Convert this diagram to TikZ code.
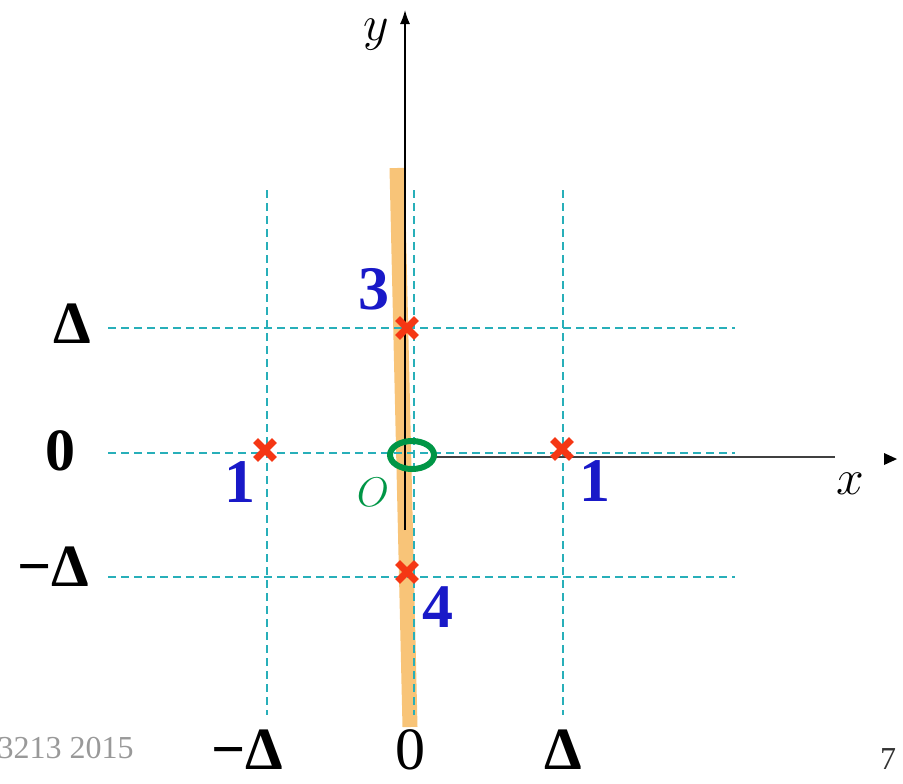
\documentclass[tikz,border=0pt]{standalone}
\usepackage{fontspec}
\setmainfont{Liberation Serif}
\usetikzlibrary{arrows.meta,shapes.misc,shapes.geometric}
\definecolor{gridcyan}{RGB}{40,175,185}
\definecolor{bandorange}{RGB}{248,196,120}
\definecolor{crossred}{RGB}{245,55,20}
\definecolor{numblue}{RGB}{25,25,200}
\definecolor{origgreen}{RGB}{0,150,70}
\tikzset{
  gridline/.style={gridcyan,line width=0.6pt,dash pattern=on 4pt off 2.5pt},
  crossmark/.style={cross out,draw=crossred,line width=3.4pt,minimum size=6pt,inner sep=0pt},
  numlab/.style={text=numblue,inner sep=0pt,font=\fontsize{31}{34}\selectfont\bfseries},
  ticklab/.style={inner sep=0pt,font=\fontsize{30}{34}\selectfont\bfseries},
  axislab/.style={inner sep=0pt,font=\fontsize{24}{28}\selectfont},
}

\begin{document}
\begin{tikzpicture}[x=0.5pt,y=-0.5pt]
  \useasboundingbox (0,0) rectangle (903,783);
  % the band along the y axis
  \draw[bandorange,line width=7.5pt] (397,168) -- (410,727);
  % dashed grid
  \foreach \y in {328,453,577} \draw[gridline] (108,\y) -- (735,\y);
  \foreach \x in {267,414,563} \draw[gridline] (\x,190) -- (\x,715);
  % axes
  \coordinate (ybot) at (405,530);
  \coordinate (ytop) at (405,10);
  \coordinate (xbeg) at (433,457);
  \coordinate (xend) at (835,457);
  \draw[line width=0.75pt,-{Latex[length=7pt,width=5pt]}] (ybot) -- (ytop);
  \draw[black!75,line width=1pt] (xbeg) -- (xend);
  \fill (884,453) -- (897,459) -- (884,465) -- cycle;
  \node[axislab] (ylab) at (376,35) {$y$};
  \node[axislab] (xlab) at (850,484) {$x$};
  % origin
  \node[ellipse,draw=origgreen,line width=3pt,minimum width=22pt,minimum height=14pt,inner sep=0pt] (orig) at (412,455) {};
  \node[inner sep=0pt,text=origgreen,font=\fontsize{22}{24}\selectfont] (olab) at (373,492) {$O$};
  % crosses
  \node[crossmark] (c1a) at (265,450) {};
  \node[crossmark] (c1b) at (562,449) {};
  \node[crossmark] (c3) at (407,328) {};
  \node[crossmark] (c4) at (407,572) {};
  \node[numlab] (n1a) at (240,482) {1};
  \node[numlab] (n1b) at (595,481) {1};
  \node[numlab] (n3) at (374,289) {3};
  \node[numlab] (n4) at (438,607) {4};
  % tick labels
  \node[ticklab] (lD) at (72,324) {Δ};
  \node[ticklab] (l0) at (60,451) {0};
  \node[ticklab,anchor=east] (lmD) at (90,567) {−Δ};
  \node[ticklab,anchor=east] (bmD) at (284,750) {−Δ};
  \node[inner sep=0pt,font=\fontsize{30}{34}\selectfont] (b0) at (410,750) {0};
  \node[ticklab] (bD) at (563,750) {Δ};
  % footer
  \node[anchor=east,inner sep=0pt,text=black!40,font=\fontsize{16}{18}\selectfont] (foot) at (134,748) {3213 2015};
  \node[anchor=north,inner sep=0pt,text=black!80,font=\fontsize{16}{18}\selectfont] (pg) at (888,748) {7};
\end{tikzpicture}
\end{document}
